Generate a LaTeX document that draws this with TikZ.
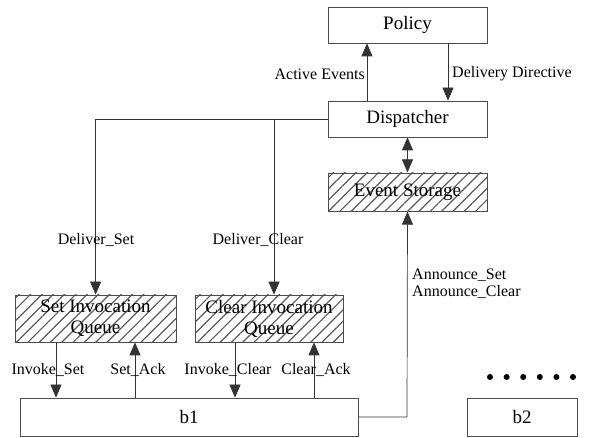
\documentclass[tikz,border=0pt]{standalone}
\usepackage{fontspec}
\setmainfont{Liberation Serif}
\usetikzlibrary{arrows.meta,patterns.meta}
\begin{document}
\begin{tikzpicture}[x=1pt,y=-1pt,
  box/.style={draw=black!70,line width=0.7pt,fill=white,inner sep=0pt,font=\fontsize{19}{20}\selectfont},
  hatch/.style={box,pattern={Lines[angle=45,distance=8pt,line width=1.2pt]},pattern color=black!65,align=center,font=\fontsize{19}{21}\selectfont},
  conn/.style={draw=black!80,line width=0.7pt},
  arr/.style={conn,-{Triangle[length=13pt,width=11pt]}},
  lbl/.style={font=\fontsize{16}{17}\selectfont,inner sep=0pt}]
\useasboundingbox (0,0) rectangle (600,438);
\node[box,minimum width=159pt,minimum height=36pt] (policy) at (407.5,25) {Policy};
\node[box,minimum width=159pt,minimum height=36pt] (disp) at (407.5,119) {Dispatcher};
\node[hatch,minimum width=159pt,minimum height=38pt] (store) at (407.5,192) {Event Storage};
\node[hatch,minimum width=161pt,minimum height=47pt] (setq) at (95.5,318.5) {Set Invocation\\Queue};
\node[hatch,minimum width=148pt,minimum height=47pt] (clrq) at (269,318.5) {Clear Invocation\\Queue};
\node[box,minimum width=338pt,minimum height=38pt] (b1) at (189,417) {b1};
\node[box,minimum width=110pt,minimum height=38pt] (b2) at (522,417) {b2};
% policy arrows
\draw[arr] (disp.north -| 367,0) -- (policy.south -| 367,0);
\draw[arr] (policy.south -| 448,0) -- (disp.north -| 448,0);
\node[lbl,anchor=east] (ae) at (365,74) {Active Events};
\node[lbl,anchor=west] (dd) at (452,74) {Delivery Directive};
% dispatcher <-> storage
\draw[conn,{Triangle[length=13pt,width=11pt]}-{Triangle[length=13pt,width=11pt]}] (disp.south) -- (store.north);
% deliver lines
\draw[arr] (disp.west) -- (95.6,119) -- (setq.north -| 95.6,0);
\draw[arr] (274,119) -- (clrq.north -| 274,0);
\node[lbl] (ds) at (96,240) {Deliver\_Set};
\node[lbl] (dc) at (258,240) {Deliver\_Clear};
% queue <-> b1
\draw[arr] (setq.south -| 56,0) -- (b1.north -| 56,0);
\draw[arr] (b1.north -| 135,0) -- (setq.south -| 135,0);
\draw[arr] (clrq.south -| 235,0) -- (b1.north -| 235,0);
\draw[arr] (b1.north -| 314,0) -- (clrq.south -| 314,0);
\node[lbl] (is) at (48,370) {Invoke\_Set};
\node[lbl] (sa) at (138,370) {Set\_Ack};
\node[lbl] (ic) at (228,370) {Invoke\_Clear};
\node[lbl] (ca) at (316,370) {Clear\_Ack};
% announce
\draw[arr] (b1.east) -- (407,417) -- (store.south);
\node[lbl,anchor=north west,align=left] (ann) at (412,269) {Announce\_Set\\Announce\_Clear};
% dots
\foreach \i in {0,...,5} \fill (490+\i*16.6,377) circle (3pt);
\end{tikzpicture}
\end{document}
